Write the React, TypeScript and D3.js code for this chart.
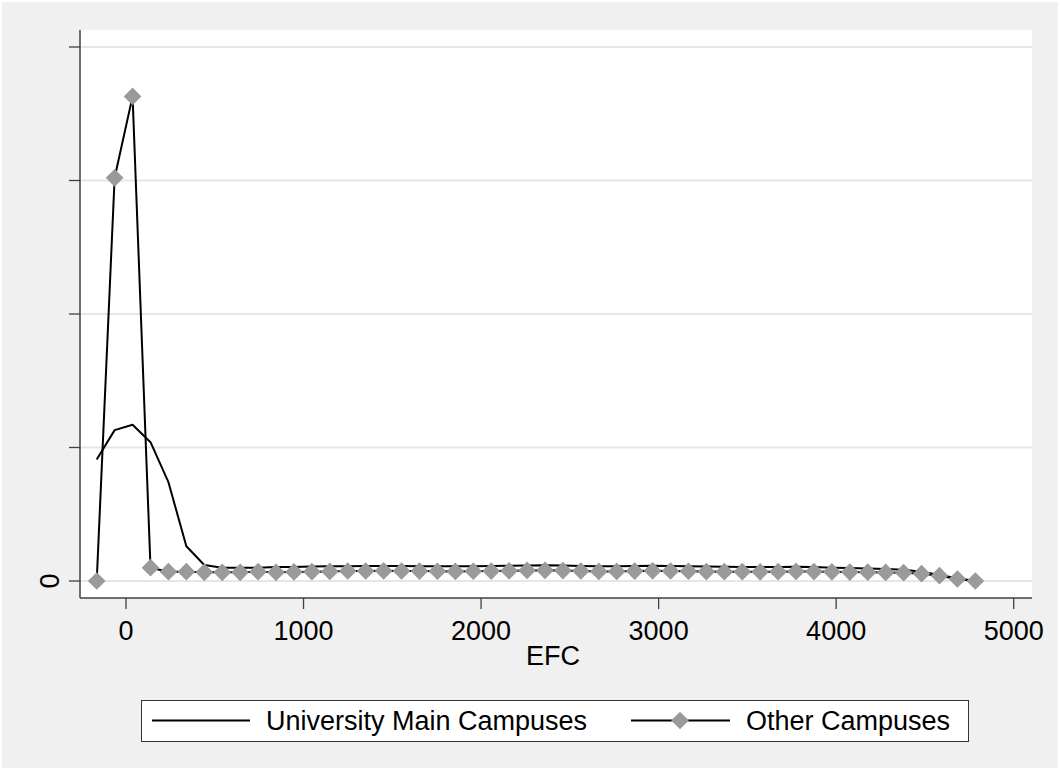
import * as React from "react"
import * as d3 from "d3"

// EFC bin positions (shared by both series)
const efc = [
  -165, -64, 37, 138, 239, 340, 441, 542, 643, 744,
  845, 946, 1047, 1148, 1249, 1350, 1451, 1552, 1653, 1754,
  1855, 1956, 2057, 2158, 2259, 2360, 2461, 2562, 2663, 2764,
  2865, 2966, 3067, 3168, 3269, 3370, 3471, 3572, 3673, 3774,
  3875, 3976, 4077, 4178, 4279, 4380, 4481, 4582, 4683, 4784,
]

const mainCampuses = [
  0.91, 1.13, 1.17, 1.04, 0.74, 0.26, 0.12, 0.1, 0.1, 0.1,
  0.105, 0.105, 0.108, 0.11, 0.11, 0.112, 0.112, 0.112, 0.11, 0.11,
  0.11, 0.11, 0.112, 0.114, 0.116, 0.118, 0.116, 0.112, 0.11, 0.11,
  0.112, 0.114, 0.112, 0.11, 0.108, 0.106, 0.105, 0.104, 0.105, 0.106,
  0.104, 0.1, 0.098, 0.094, 0.09, 0.085, 0.07, 0.045, 0.02, 0.0,
]

const otherCampuses = [
  0.0, 3.02, 3.63, 0.1, 0.07, 0.07, 0.065, 0.065, 0.065, 0.07,
  0.065, 0.068, 0.07, 0.072, 0.075, 0.075, 0.076, 0.075, 0.074, 0.073,
  0.072, 0.073, 0.074, 0.076, 0.079, 0.08, 0.078, 0.075, 0.072, 0.072,
  0.074, 0.076, 0.075, 0.073, 0.071, 0.07, 0.07, 0.069, 0.07, 0.072,
  0.071, 0.069, 0.067, 0.066, 0.064, 0.062, 0.055, 0.04, 0.015, 0.0,
]

const xTicks = [0, 1000, 2000, 3000, 4000, 5000]
const yTicks = [0, 1, 2, 3, 4]
const yTickLabels = ["0", "", "", "", ""]
const seriesNames = ["University Main Campuses", "Other Campuses"]

const FONT = "'Liberation Sans', Arial, Helvetica, sans-serif"
const FS = 27

function render(svgRef: React.RefObject<SVGSVGElement>) {
  const width = 1060
  const height = 770
  const plot = { left: 80, right: 1032, top: 30, bottom: 598 }

  const svg = d3.select(svgRef.current).attr("width", width).attr("height", height)
  svg.selectAll("*").remove()

  const xScale = d3.scaleLinear().domain([0, 5000]).range([126, 1013.7])
  const yScale = d3.scaleLinear().domain([0, 4]).range([581, 47])

  // backgrounds
  svg.append("rect").attr("width", width).attr("height", height).attr("fill", "#ffffff")
  svg
    .append("rect")
    .attr("x", 2)
    .attr("y", 2)
    .attr("width", width - 4)
    .attr("height", height - 4)
    .attr("fill", "#f0f0f0")
  svg
    .append("rect")
    .attr("x", plot.left)
    .attr("y", plot.top)
    .attr("width", plot.right - plot.left)
    .attr("height", plot.bottom - plot.top)
    .attr("fill", "#ffffff")

  // gridlines
  svg
    .selectAll(".grid")
    .data(yTicks)
    .join("line")
    .attr("class", "grid")
    .attr("x1", plot.left)
    .attr("x2", plot.right)
    .attr("y1", (d) => yScale(d))
    .attr("y2", (d) => yScale(d))
    .attr("stroke", "#e6e6e6")
    .attr("stroke-width", 2)

  // lines
  const pts = (vals: number[]) => efc.map((x, i) => [x, vals[i]] as [number, number])
  const line = d3
    .line<[number, number]>()
    .x((d) => xScale(d[0]))
    .y((d) => yScale(d[1]))

  svg
    .append("path")
    .attr("d", line(pts(mainCampuses)))
    .attr("fill", "none")
    .attr("stroke", "#000")
    .attr("stroke-width", 2)
    .attr("stroke-linejoin", "round")

  svg
    .append("path")
    .attr("d", line(pts(otherCampuses)))
    .attr("fill", "none")
    .attr("stroke", "#000")
    .attr("stroke-width", 2)
    .attr("stroke-linejoin", "round")

  const diamond = d3.symbol().type(d3.symbolDiamond2).size(200)
  svg
    .selectAll(".mk")
    .data(pts(otherCampuses))
    .join("path")
    .attr("class", "mk")
    .attr("d", diamond)
    .attr("transform", (d) => `translate(${xScale(d[0])},${yScale(d[1])})`)
    .attr("fill", "#9a9a9a")

  // axes
  const axisColor = "#404040"
  svg
    .append("line")
    .attr("x1", plot.left)
    .attr("x2", plot.left)
    .attr("y1", plot.top)
    .attr("y2", plot.bottom)
    .attr("stroke", axisColor)
    .attr("stroke-width", 1.5)
  svg
    .append("line")
    .attr("x1", plot.left)
    .attr("x2", plot.right)
    .attr("y1", plot.bottom)
    .attr("y2", plot.bottom)
    .attr("stroke", axisColor)
    .attr("stroke-width", 1.5)

  svg
    .selectAll(".ytick")
    .data(yTicks)
    .join("line")
    .attr("class", "ytick")
    .attr("x1", plot.left - 11)
    .attr("x2", plot.left)
    .attr("y1", (d) => yScale(d))
    .attr("y2", (d) => yScale(d))
    .attr("stroke", axisColor)
    .attr("stroke-width", 1.3)

  svg
    .selectAll(".ylab")
    .data(yTicks)
    .join("text")
    .attr("class", "ylab")
    .attr("transform", (d) => `translate(59,${yScale(d)}) rotate(-90)`)
    .attr("text-anchor", "middle")
    .attr("font-family", FONT)
    .attr("font-size", FS)
    .attr("fill", "#000")
    .text((d, i) => yTickLabels[i])

  svg
    .selectAll(".xtick")
    .data(xTicks)
    .join("line")
    .attr("class", "xtick")
    .attr("x1", (d) => xScale(d))
    .attr("x2", (d) => xScale(d))
    .attr("y1", plot.bottom)
    .attr("y2", plot.bottom + 11)
    .attr("stroke", axisColor)
    .attr("stroke-width", 1.3)

  svg
    .selectAll(".xlab")
    .data(xTicks)
    .join("text")
    .attr("class", "xlab")
    .attr("x", (d) => xScale(d))
    .attr("y", 640)
    .attr("text-anchor", "middle")
    .attr("font-family", FONT)
    .attr("font-size", FS)
    .attr("fill", "#000")
    .text((d) => String(d))

  svg
    .append("text")
    .attr("x", (plot.left + plot.right) / 2 - 3)
    .attr("y", 665)
    .attr("text-anchor", "middle")
    .attr("font-family", FONT)
    .attr("font-size", FS)
    .attr("fill", "#000")
    .text("EFC")

  // legend
  const lg = svg.append("g")
  lg.append("rect")
    .attr("x", 141.5)
    .attr("y", 700.5)
    .attr("width", 827)
    .attr("height", 41)
    .attr("fill", "#fff")
    .attr("stroke", "#333")
    .attr("stroke-width", 1)

  lg.append("line")
    .attr("x1", 152)
    .attr("x2", 250)
    .attr("y1", 720.5)
    .attr("y2", 720.5)
    .attr("stroke", "#000")
    .attr("stroke-width", 2)
  lg.append("text")
    .attr("x", 266)
    .attr("y", 730)
    .attr("font-family", FONT)
    .attr("font-size", FS)
    .attr("fill", "#000")
    .text(seriesNames[0])

  lg.append("line")
    .attr("x1", 631)
    .attr("x2", 730)
    .attr("y1", 720.5)
    .attr("y2", 720.5)
    .attr("stroke", "#000")
    .attr("stroke-width", 2)
  lg.append("path")
    .attr("d", diamond)
    .attr("transform", "translate(680,720.5)")
    .attr("fill", "#9a9a9a")
  lg.append("text")
    .attr("x", 746)
    .attr("y", 730)
    .attr("font-family", FONT)
    .attr("font-size", FS)
    .attr("fill", "#000")
    .text(seriesNames[1])
}

export default function App(): React.JSX.Element {
  const svg = React.useRef<SVGSVGElement>(null)

  React.useEffect(() => {
    render(svg)
  }, [])

  return (
    <div style={{ position: "absolute", left: 0, top: 0, width: 1060, height: 770 }}>
      <svg ref={svg} style={{ display: "block" }} />
    </div>
  )
}
